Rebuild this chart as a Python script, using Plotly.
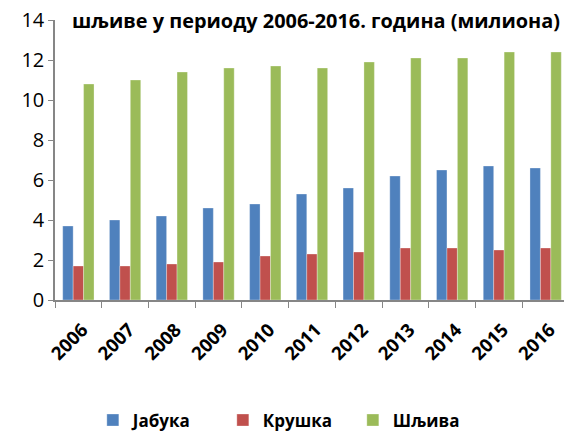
import plotly.graph_objects as go

years = ["2006", "2007", "2008", "2009", "2010", "2011", "2012", "2013", "2014", "2015", "2016"]
jabuka = [3.7, 4.0, 4.2, 4.6, 4.8, 5.3, 5.6, 6.2, 6.5, 6.7, 6.6]
kruska = [1.7, 1.7, 1.8, 1.9, 2.2, 2.3, 2.4, 2.6, 2.6, 2.5, 2.6]
sljiva = [10.8, 11.0, 11.4, 11.6, 11.7, 11.6, 11.9, 12.1, 12.1, 12.4, 12.4]
names = ["Јабука", "Крушка", "Шљива"]
colors = ["#4F81BD", "#C0504D", "#9BBB59"]
title = "шљиве у периоду 2006-2016. година (милиона)"

fig = go.Figure()
for name, vals, col in zip(names, [jabuka, kruska, sljiva], colors):
    fig.add_trace(go.Bar(x=years, y=vals, name=name,
                         marker=dict(color=col, line=dict(color="rgba(255,255,255,0.6)", width=0.5))))

font = "Open Sans"
fig.update_layout(
    width=564, height=426,
    margin=dict(l=47, r=3, t=12, b=134, autoexpand=False),
    paper_bgcolor="white", plot_bgcolor="white",
    barmode="group", bargap=0.33, bargroupgap=0,
    showlegend=True,
    legend=dict(orientation="h", x=0.453, xanchor="center",
                yref="container", y=0.074, yanchor="top",
                font=dict(family=font, size=17, color="#000", weight="bold"),
                entrywidth=85, itemwidth=30),
    annotations=[dict(text=title, xref="paper", yref="paper",
                      x=0.03, y=1.0, xanchor="left", yanchor="middle", yshift=0,
                      showarrow=False,
                      font=dict(family=font, size=19.9, color="#000", weight="bold"))],
)
fig.update_xaxes(type="category", showline=True, linecolor="#868686", linewidth=1.5,
                 ticks="outside", tickson="boundaries", ticklen=6, tickcolor="#868686",
                 tickangle=-45, tickfont=dict(family=font, size=18.5, color="#000", weight="bold"),
                 ticklabelstandoff=10, ticklabelshift=4,
                 showgrid=False, zeroline=False, automargin=False, ticklabeloverflow="allow")
fig.update_yaxes(range=[0, 14], dtick=2, showline=True, linecolor="#868686", linewidth=1.5,
                 ticks="outside", ticklen=5, tickcolor="#868686",
                 tickfont=dict(family=font, size=20, color="#000"),
                 showgrid=False, zeroline=False, automargin=False, ticklabeloverflow="allow")

fig.write_html("out.html")
